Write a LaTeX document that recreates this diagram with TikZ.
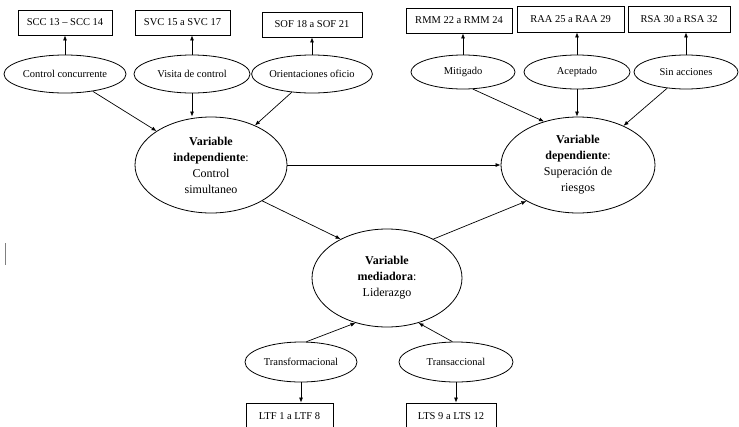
\documentclass[tikz,border=0pt]{standalone}
\usepackage{fontspec}
\setmainfont{Liberation Serif}
\usetikzlibrary{shapes.geometric,arrows.meta}
\begin{document}
\begin{tikzpicture}[x=1pt,y=-1pt,
 box/.style={draw,line width=0.8pt,inner sep=0pt,font=\fontsize{10.5}{12}\selectfont},
 oval/.style={draw,ellipse,line width=0.8pt,inner sep=0pt,font=\fontsize{10.5}{12}\selectfont},
 big/.style={draw,ellipse,line width=0.8pt,inner sep=0pt,align=center,font=\fontsize{12}{16}\selectfont},
 arr/.style={-{Latex[length=5pt,width=4pt]},line width=0.7pt}]
\useasboundingbox (0,0) rectangle (739,426);
\clip (0,0) rectangle (739,426);
% top boxes
\node[box,minimum width=94pt,minimum height=25pt] (scc) at (65,22.5) {SCC 13 – SCC 14};
\node[box,minimum width=95pt,minimum height=25pt] (svc) at (182.5,22.5) {SVC 15 a SVC 17};
\node[box,minimum width=100pt,minimum height=25pt] (sof) at (312,24.5) {SOF 18 a SOF 21};
\node[box,minimum width=106pt,minimum height=25pt] (rmm) at (459,20.5) {RMM 22 a RMM 24};
\node[box,minimum width=107pt,minimum height=26pt] (raa) at (570.5,19) {RAA 25 a RAA 29};
\node[box,minimum width=102pt,minimum height=26pt] (rsa) at (679,19) {RSA 30 a RSA 32};
% top ellipses
\node[oval,minimum width=122pt,minimum height=38pt] (cc) at (65,74) {Control concurrente};
\node[oval,minimum width=116pt,minimum height=38pt] (vc) at (192,74) {Visita de control};
\node[oval,minimum width=116pt,minimum height=38pt] (oo) at (312,74) {Orientaciones oficio};
\node[oval,minimum width=104pt,minimum height=34pt] (mi) at (463,72) {Mitigado};
\node[oval,minimum width=106pt,minimum height=34pt] (ac) at (577,72) {Aceptado};
\node[oval,minimum width=104pt,minimum height=34pt] (sa) at (686,72) {Sin acciones};
% big ellipses
\node[big,minimum width=152pt,minimum height=96pt] (ind) at (211,165) {\textbf{Variable}\\\textbf{independiente}:\\Control\\simultaneo};
\node[big,minimum width=154pt,minimum height=96pt] (dep) at (578,165) {\textbf{Variable}\\\textbf{dependiente}:\\Superación de\\riesgos};
\node[big,minimum width=150pt,minimum height=98pt] (med) at (387,278) {\textbf{Variable}\\\textbf{mediadora}:\\Liderazgo};
% bottom
\node[oval,minimum width=112pt,minimum height=40pt] (tf) at (301,362) {Transformacional};
\node[oval,minimum width=114pt,minimum height=40pt] (ta) at (456,362) {Transaccional};
\node[box,minimum width=87pt,minimum height=27pt] (ltf) at (289.5,416.5) {LTF 1 a LTF 8};
\node[box,minimum width=90pt,minimum height=27pt] (lts) at (451,416.5) {LTS 9 a LTS 12};
% arrows to boxes
\foreach \e/\b in {cc/scc,vc/svc,oo/sof,mi/rmm,ac/raa,sa/rsa}
  \draw[arr] (\e.north) -- (\e.north |- \b.south);
\draw[arr] (tf.south) -- (tf.south |- ltf.north);
\draw[arr] (ta.south) -- (ta.south |- lts.north);
% to independent
\draw[arr] (cc) -- (ind);
\draw[arr] (vc.south) -- (vc.south |- ind.north);
\draw[arr] (oo) -- (ind);
% to dependent
\draw[arr] (mi.-60) -- (dep.128);
\draw[arr] (ac.south) -- (ac.south |- dep.north);
\draw[arr] (sa) -- (dep);
% main
\draw[arr] (ind.east) -- (dep.west);
\draw[arr] (ind.-35) -- (med.140);
\draw[arr] (med.40) -- (dep.-145);
\draw[arr] (tf.75) -- (med.-125);
\draw[arr] (ta.100) -- (med.-55);
% stray mark
\draw[gray,line width=0.8pt] (5,243) -- (5,265);
\end{tikzpicture}
\end{document}
